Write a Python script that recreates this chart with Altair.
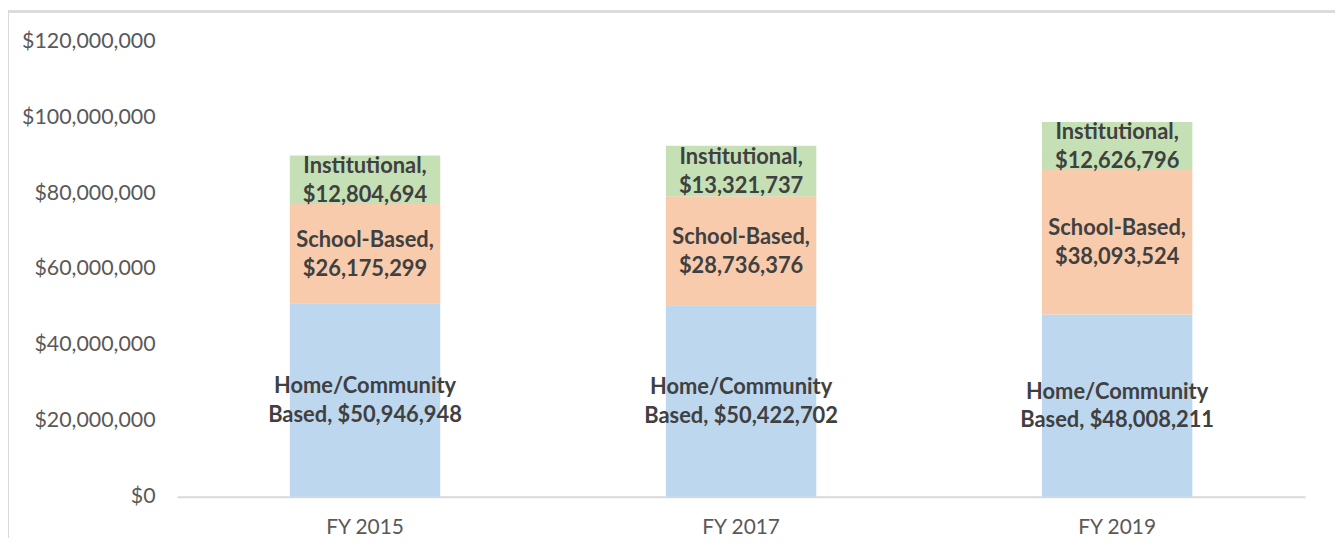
import altair as alt
import pandas as pd

years = ["FY 2015", "FY 2017", "FY 2019"]
categories = ["Home/Community Based", "School-Based", "Institutional"]
home = [50946948, 50422702, 48008211]
school = [26175299, 28736376, 38093524]
inst = [12804694, 13321737, 12626796]
colors = ["#BDD7EE", "#F8CBAD", "#C5E0B4"]

rows = []
for i, y in enumerate(years):
    base = 0
    for j, (cat, vals) in enumerate(zip(categories, [home, school, inst])):
        v = vals[i]
        money = "${:,}".format(v)
        if cat == "Home/Community Based":
            label = ["Home/Community", "Based, " + money]
        else:
            label = [cat + ",", money]
        rows.append({"year": y, "cat": cat, "order": j, "start": base, "end": base + v,
                     "mid": base + v / 2, "label": label})
        base += v
df = pd.DataFrame(rows)

FONT = "Lato"
W, H = 1135, 458

xenc = alt.X("year:N", sort=years,
             scale=alt.Scale(paddingInner=0.6, paddingOuter=0.3),
             axis=alt.Axis(title=None, labelAngle=0, labelFontSize=21, labelColor="#595959",
                           labelFont=FONT, labelPadding=20, ticks=False, domainColor="#D9D9D9",
                           domainWidth=2, grid=False))
yscale = alt.Scale(domain=[0, 120000000], nice=False)

bars = alt.Chart(df).mark_bar().encode(
    x=xenc,
    y=alt.Y("start:Q", scale=yscale,
            axis=alt.Axis(title=None, values=[0, 20000000, 40000000, 60000000, 80000000, 100000000, 120000000],
                          format="$,.0f", labelFontSize=21.5, labelColor="#595959", labelFont=FONT,
                          labelPadding=22, ticks=False, domain=False, grid=False)),
    y2="end:Q",
    color=alt.Color("cat:N", scale=alt.Scale(domain=categories, range=colors), legend=None),
)

text = alt.Chart(df).mark_text(fontSize=22, fontWeight="bold", color="#404040", font=FONT,
                               lineHeight=29, baseline="middle", dy=-14).encode(
    x=alt.X("year:N", sort=years),
    y=alt.Y("mid:Q", scale=yscale),
    text="label",
)

frame_top = alt.Chart(df).mark_rule(color="#D9D9D9", strokeWidth=1.5).encode(
    x=alt.value(-170), x2=alt.value(W + 30), y=alt.value(-30))
frame_left = alt.Chart(df).mark_rule(color="#D9D9D9", strokeWidth=1.5).encode(
    x=alt.value(-170), y=alt.value(-30), y2=alt.value(H + 60))

chart = alt.layer(bars, text, frame_top, frame_left).properties(
    width=W, height=H,
    autosize=alt.AutoSizeParams(type="none"),
    padding={"left": 170, "top": 32, "right": 30, "bottom": 40},
).configure_view(stroke=None)

chart.save("out.html", embed_options={"renderer": "svg", "actions": False})
